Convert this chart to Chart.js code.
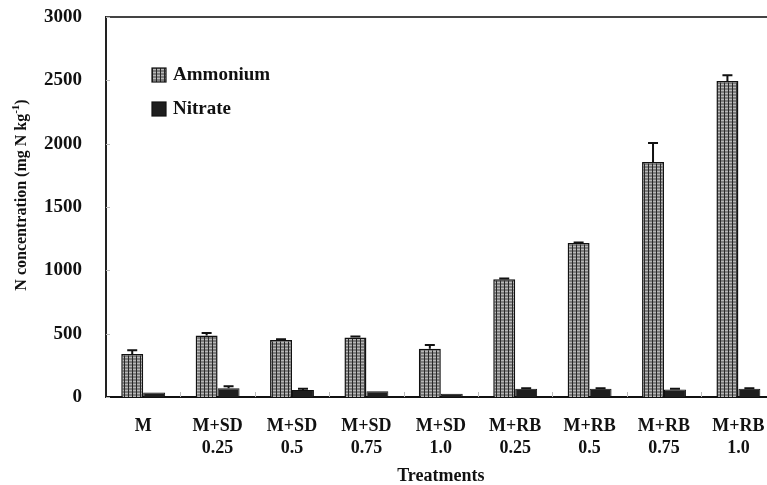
<!DOCTYPE html>
<html>
<head>
<meta charset="utf-8">
<script src="https://cdn.jsdelivr.net/npm/chart.js@4/dist/chart.umd.min.js"></script>
<style>
  html, body { margin: 0; padding: 0; background: #fff; overflow: hidden; }
  #wrap { width: 767px; height: 485px; overflow: hidden; }
  canvas { display: block; }
</style>
</head>
<body>
<div id="wrap"><canvas id="c" width="780" height="485"></canvas></div>
<script>
// Treatments (two-line tick labels)
const categories = [
  ['M'], ['M+SD', '0.25'], ['M+SD', '0.5'], ['M+SD', '0.75'], ['M+SD', '1.0'],
  ['M+RB', '0.25'], ['M+RB', '0.5'], ['M+RB', '0.75'], ['M+RB', '1.0']
];
// N concentration, mg N per kg
const ammonium    = [340, 485, 450, 470, 380, 930, 1215, 1855, 2495];
const ammoniumErr = [30, 20, 5, 8, 30, 5, 5, 150, 45];
const nitrate     = [35, 70, 55, 45, 25, 65, 65, 60, 65];
const nitrateErr  = [0, 15, 10, 0, 0, 5, 5, 5, 5];
const yTicks      = [0, 500, 1000, 1500, 2000, 2500, 3000];

const SERIF = "'Liberation Serif', 'Times New Roman', serif";

// Grid-hatched fill used for the ammonium bars
function makeHatch() {
  const p = document.createElement('canvas');
  p.width = 4; p.height = 3;
  const g = p.getContext('2d');
  g.fillStyle = '#7c7c7c'; g.fillRect(0, 0, 4, 3);
  g.fillStyle = '#b8b8b8'; g.fillRect(1, 0, 3, 1);
  g.fillStyle = '#262626'; g.fillRect(0, 0, 1, 3);
  return document.getElementById('c').getContext('2d').createPattern(p, 'repeat');
}
const hatch = makeHatch();

// Upward error bars drawn from the data through the scales
const errorBars = {
  id: 'errorBars',
  afterDatasetsDraw(chart) {
    const ctx = chart.ctx, y = chart.scales.y;
    const errs = [ammoniumErr, nitrateErr];
    ctx.save();
    ctx.strokeStyle = '#111';
    ctx.lineWidth = 2;
    chart.data.datasets.forEach((ds, di) => {
      chart.getDatasetMeta(di).data.forEach((bar, i) => {
        const e = errs[di][i];
        if (!e) return;
        const top = y.getPixelForValue(ds.data[i] + e);
        const base = y.getPixelForValue(ds.data[i]);
        ctx.beginPath();
        ctx.moveTo(bar.x, base); ctx.lineTo(bar.x, top);
        ctx.moveTo(bar.x - 5, top); ctx.lineTo(bar.x + 5, top);
        ctx.stroke();
      });
    });
    ctx.restore();
  }
};

// Frame line at the top, small inner ticks, legend and y title
const decorations = {
  id: 'decorations',
  afterDraw(chart) {
    const ctx = chart.ctx, a = chart.chartArea;
    const x = chart.scales.x, y = chart.scales.y;
    ctx.save();
    // top frame line
    ctx.strokeStyle = '#444';
    ctx.lineWidth = 2;
    ctx.beginPath(); ctx.moveTo(a.left, a.top); ctx.lineTo(a.right, a.top); ctx.stroke();
    // faint inner ticks
    ctx.strokeStyle = '#bbb';
    ctx.lineWidth = 1;
    yTicks.forEach(v => {
      const py = Math.round(y.getPixelForValue(v)) + 0.5;
      ctx.beginPath(); ctx.moveTo(a.left, py); ctx.lineTo(a.left + 4, py); ctx.stroke();
    });
    for (let i = 1; i < categories.length; i++) {
      const px = Math.round((x.getPixelForValue(i - 1) + x.getPixelForValue(i)) / 2) + 0.5;
      ctx.beginPath(); ctx.moveTo(px, a.bottom); ctx.lineTo(px, a.bottom - 5); ctx.stroke();
    }
    // legend
    ctx.font = 'bold 19px ' + SERIF;
    ctx.textBaseline = 'middle';
    chart.data.datasets.forEach((ds, i) => {
      const bx = a.left + 46, by = a.top + 51 + i * 34;
      ctx.fillStyle = ds.backgroundColor;
      ctx.fillRect(bx, by, 14, 14);
      ctx.strokeStyle = '#111'; ctx.lineWidth = 1.2;
      ctx.strokeRect(bx, by, 14, 14);
      ctx.fillStyle = '#111';
      ctx.fillText(ds.label, bx + 21, by + 7);
    });
    // y axis title with superscript
    ctx.translate(22, (a.top + a.bottom) / 2 - 12);
    ctx.rotate(-Math.PI / 2);
    const main = 'N concentration (mg N kg';
    const sup = '-1';
    const tail = ')';
    ctx.font = 'bold 16px ' + SERIF;
    const wMain = ctx.measureText(main).width, wTail = ctx.measureText(tail).width;
    ctx.font = 'bold 11px ' + SERIF;
    const wSup = ctx.measureText(sup).width;
    let sx = -(wMain + wSup + wTail) / 2;
    ctx.textAlign = 'left';
    ctx.font = 'bold 16px ' + SERIF;
    ctx.fillText(main, sx, 0); sx += wMain;
    ctx.font = 'bold 11px ' + SERIF;
    ctx.fillText(sup, sx, -6); sx += wSup;
    ctx.font = 'bold 16px ' + SERIF;
    ctx.fillText(tail, sx, 0);
    ctx.restore();
  }
};

new Chart(document.getElementById('c'), {
  type: 'bar',
  data: {
    labels: categories,
    datasets: [
      { label: 'Ammonium', data: ammonium, backgroundColor: hatch,
        borderColor: '#111', borderWidth: 1.5 },
      { label: 'Nitrate', data: nitrate, backgroundColor: '#1e1e1e',
        borderColor: '#111', borderWidth: 1 }
    ]
  },
  options: {
    responsive: false,
    animation: false,
    devicePixelRatio: 1,
    layout: { padding: { top: 17, left: 0, right: 4.4, bottom: 0 } },
    datasets: { bar: { categoryPercentage: 0.59, barPercentage: 1.0 } },
    plugins: { legend: { display: false }, tooltip: { enabled: false } },
    scales: {
      x: {
        grid: { display: false, drawTicks: false },
        border: { display: true, color: '#111', width: 2 },
        ticks: {
          font: { family: SERIF, size: 18, weight: 'bold', lineHeight: 1.2 },
          color: '#111', padding: 19, maxRotation: 0, autoSkip: false
        },
        title: {
          display: true, text: 'Treatments', color: '#111',
          font: { family: SERIF, size: 18, weight: 'bold', lineHeight: 1.0 },
          padding: { top: 12, bottom: 0 }
        },
        afterFit(s) { s.height = 88; s.paddingLeft = 0; s.paddingRight = 0; }
      },
      y: {
        min: 0, max: 3000,
        afterBuildTicks(s) { s.ticks = yTicks.map(v => ({ value: v })); },
        grid: { display: false, drawTicks: false },
        border: { display: true, color: '#222', width: 2 },
        ticks: {
          font: { family: SERIF, size: 19, weight: 'bold' },
          color: '#111', padding: 24,
          callback: v => String(v)
        },
        afterFit(s) { s.width = 106; s.paddingTop = 0; s.paddingBottom = 0; }
      }
    }
  },
  plugins: [errorBars, decorations]
});
</script>
</body>
</html>
